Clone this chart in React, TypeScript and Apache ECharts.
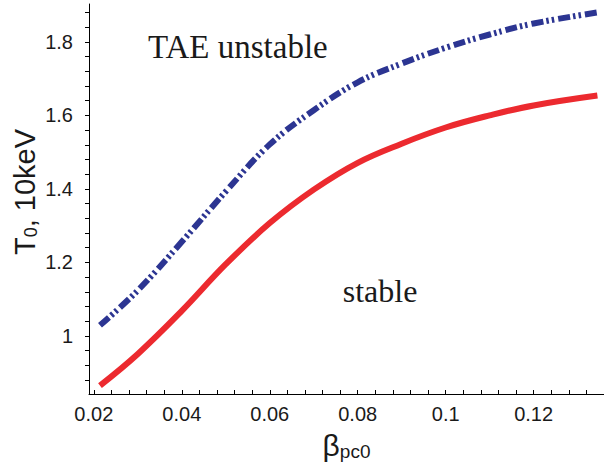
import React, { useEffect, useRef } from "react";
import * as echarts from "echarts";

// beta_pc0 values and T0 (10 keV) thresholds
const betaX = [0.0214, 0.03, 0.04, 0.05, 0.06, 0.07, 0.08, 0.09, 0.1, 0.11, 0.12, 0.1345];
const redY = [0.865, 0.951, 1.068, 1.195, 1.307, 1.398, 1.471, 1.523, 1.567, 1.6, 1.627, 1.654];
const blueY = [1.029, 1.124, 1.256, 1.393, 1.521, 1.614, 1.69, 1.741, 1.784, 1.82, 1.85, 1.88];

const xLabels = [0.02, 0.04, 0.06, 0.08, 0.1, 0.12];
const yLabels = [1, 1.2, 1.4, 1.6, 1.8];
const xMinor = Array.from({ length: 29 }, (_, i) => +(0.02 + i * 0.004).toFixed(3));
const yMinor = Array.from({ length: 26 }, (_, i) => +(0.88 + i * 0.04).toFixed(2));

export default function App() {
  const ref = useRef<HTMLDivElement>(null);
  useEffect(() => {
    if (!ref.current) return;
    const chart = echarts.init(ref.current, null, { renderer: "svg" });
    const font = "'Liberation Sans', Arial, Helvetica, sans-serif";
    const serif = "'Liberation Serif', 'Times New Roman', serif";
    chart.setOption({
      animation: false,
      backgroundColor: "#ffffff",
      grid: { left: 89, right: 0, top: 4, bottom: 77, outerBoundsMode: "none" },
      xAxis: {
        type: "value",
        min: 0.0189,
        max: 0.136,
        axisLine: { show: true, lineStyle: { color: "#000", width: 1 } },
        axisTick: { show: true, inside: true, length: 4, customValues: xMinor, lineStyle: { color: "#000" } },
        axisLabel: {
          customValues: xLabels,
          formatter: (v: number) => String(v),
          fontFamily: font,
          fontSize: 20,
          color: "#1a1a1a",
          margin: 10,
        },
        splitLine: { show: false },
        name: "{b|β}{s|pc0}",
        nameLocation: "middle",
        nameGap: 36,
        nameTextStyle: {
          rich: {
            b: { fontFamily: font, fontSize: 30, color: "#1a1a1a" },
            s: { fontFamily: font, fontSize: 19, color: "#1a1a1a", verticalAlign: "bottom", padding: [12, 0, 0, 0] },
          },
        },
      },
      yAxis: {
        type: "value",
        min: 0.842,
        max: 1.903,
        axisLine: { show: true, lineStyle: { color: "#000", width: 1 } },
        axisTick: { show: true, inside: false, length: 4, customValues: yMinor, lineStyle: { color: "#000" } },
        axisLabel: {
          customValues: yLabels,
          formatter: (v: number) => String(v),
          fontFamily: font,
          fontSize: 20,
          color: "#1a1a1a",
          margin: 16,
        },
        splitLine: { show: false },
      },
      graphic: [
        {
          type: "text",
          x: 25,
          y: 192,
          rotation: Math.PI / 2,
          style: {
            text: "{t|T}{s|0}{t|, 10keV}",
            align: "center",
            verticalAlign: "middle",
            rich: {
              t: { fontFamily: font, fontSize: 29, fill: "#1a1a1a" },
              s: { fontFamily: font, fontSize: 18, fill: "#1a1a1a", verticalAlign: "bottom", padding: [12, 0, 0, 0] },
            },
          },
        },
        {
          type: "text",
          x: 148,
          y: 47,
          style: { text: "TAE unstable", fontFamily: serif, fontSize: 33, fill: "#1a1a1a", align: "left", verticalAlign: "middle" },
        },
        {
          type: "text",
          x: 380,
          y: 291,
          style: { text: "stable", fontFamily: serif, fontSize: 32, fill: "#1a1a1a", align: "center", verticalAlign: "middle" },
        },
      ],
      series: [
        {
          type: "line",
          data: betaX.map((x, i) => [x, redY[i]]),
          smooth: 0.4,
          showSymbol: false,
          lineStyle: { color: "#ec2a2f", width: 6 },
        },
        {
          type: "line",
          data: betaX.map((x, i) => [x, blueY[i]]),
          smooth: 0.4,
          showSymbol: false,
          lineStyle: { color: "#2c3592", width: 6, type: [12, 3, 2.5, 3, 2.5, 4], cap: "butt" },
        },
      ],
    });
    return () => chart.dispose();
  }, []);
  return <div ref={ref} style={{ position: "fixed", left: 0, top: 0, width: 604, height: 471 }} />;
}
